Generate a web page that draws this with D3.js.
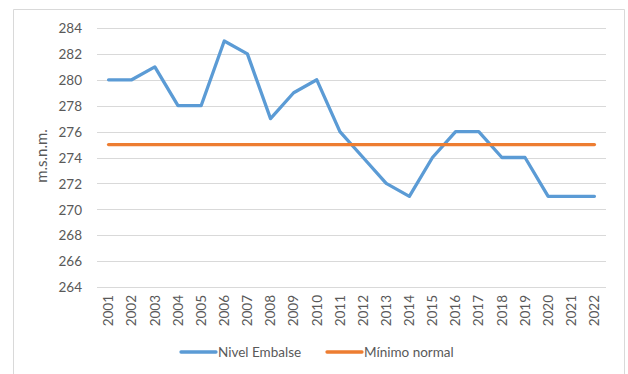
<!DOCTYPE html>
<html>
<head>
<meta charset="utf-8">
<script src="https://cdn.jsdelivr.net/npm/d3@7"></script>
<style>
  html, body { margin: 0; padding: 0; background: #fff; }
  svg { display: block; }
  text { font-family: Lato, "Liberation Sans", sans-serif; fill: #595959; }
</style>
</head>
<body>
<svg id="chart" width="628" height="374"></svg>
<script>
// Reservoir level per year and the normal minimum level
const years = ["2001","2002","2003","2004","2005","2006","2007","2008","2009","2010","2011",
               "2012","2013","2014","2015","2016","2017","2018","2019","2020","2021","2022"];
const nivelEmbalse = [280,280,281,278,278,283,282,277,279,280,276,274,272,271,274,276,276,274,274,271,271,271];
const minimoNormal = [275,275,275,275,275,275,275,275,275,275,275,275,275,275,275,275,275,275,275,275,275,275];
const yTicks = [264,266,268,270,272,274,276,278,280,282,284];
const seriesNames = ["Nivel Embalse", "Mínimo normal"];
const seriesColors = ["#5B9BD5", "#ED7D31"];

const svg = d3.select("#chart");

// Chart area frame
svg.append("path")
  .attr("d", "M13.5,374 V9.5 H624.5 V374")
  .attr("fill", "none")
  .attr("stroke", "#D9D9D9")
  .attr("stroke-width", 1);

const plot = { left: 97, right: 606, top: 28, bottom: 287 };

const x = d3.scaleBand().domain(years).range([plot.left, plot.right]);
const y = d3.scaleLinear().domain([264, 284]).range([plot.bottom, plot.top]);

// Horizontal gridlines
svg.append("g")
  .selectAll("line")
  .data(yTicks)
  .join("line")
  .attr("x1", plot.left)
  .attr("x2", plot.right)
  .attr("y1", d => Math.round(y(d)) + 0.5)
  .attr("y2", d => Math.round(y(d)) + 0.5)
  .attr("stroke", "#D9D9D9")
  .attr("stroke-width", 1);

// Y axis labels
const yAxis = d3.axisLeft(y).tickValues(yTicks).tickSize(0).tickPadding(0);
const yg = svg.append("g").attr("transform", `translate(${plot.left - 15},0)`).call(yAxis);
yg.select(".domain").remove();
yg.selectAll("text")
  .attr("font-family", "Lato, 'Liberation Sans', sans-serif")
  .attr("font-size", 13.5)
  .attr("fill", "#595959")
  .attr("dy", "0.35em");

// X axis labels (rotated)
const xAxis = d3.axisBottom(x).tickSize(0).tickPadding(0);
const xg = svg.append("g").attr("transform", `translate(0,${plot.bottom})`).call(xAxis);
xg.select(".domain").remove();
xg.selectAll("text")
  .attr("font-family", "Lato, 'Liberation Sans', sans-serif")
  .attr("font-size", 13.5)
  .attr("fill", "#595959")
  .attr("transform", "rotate(-90)")
  .attr("text-anchor", "end")
  .attr("x", -8)
  .attr("y", 0)
  .attr("dy", "0.35em");

// Y axis title
svg.append("text")
  .attr("transform", `translate(47,156) rotate(-90)`)
  .attr("text-anchor", "middle")
  .attr("font-size", 15)
  .text("m.s.n.m.");

// Series lines
const line = d3.line()
  .x((d, i) => x(years[i]) + x.bandwidth() / 2)
  .y(d => y(d));

[nivelEmbalse, minimoNormal].forEach((vals, k) => {
  svg.append("path")
    .datum(vals)
    .attr("fill", "none")
    .attr("stroke", seriesColors[k])
    .attr("stroke-width", 3.3)
    .attr("stroke-linejoin", "round")
    .attr("stroke-linecap", "round")
    .attr("d", line);
});

// Legend
const legendItems = [
  { x: 181, name: seriesNames[0], color: seriesColors[0] },
  { x: 327, name: seriesNames[1], color: seriesColors[1] }
];
const lg = svg.append("g");
legendItems.forEach(it => {
  lg.append("line")
    .attr("x1", it.x).attr("x2", it.x + 35)
    .attr("y1", 352).attr("y2", 352)
    .attr("stroke", it.color)
    .attr("stroke-width", 3.3)
    .attr("stroke-linecap", "round");
  lg.append("text")
    .attr("x", it.x + 37)
    .attr("y", 352)
    .attr("dy", "0.35em")
    .attr("font-size", 13.5)
    .text(it.name);
});
</script>
</body>
</html>
